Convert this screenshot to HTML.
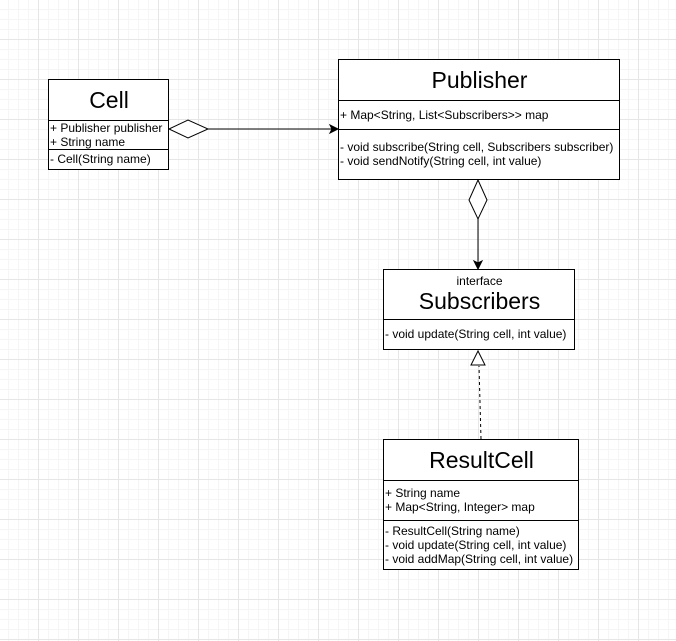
<!DOCTYPE html>
<html><head><style>
body{margin:0;width:676px;height:641px;overflow:hidden;background:#fff;
background-image:linear-gradient(#e6e6e6 1px,transparent 1px),linear-gradient(90deg,#e6e6e6 1px,transparent 1px),linear-gradient(#f5f5f5 1px,transparent 1px),linear-gradient(90deg,#f5f5f5 1px,transparent 1px);
background-size:40px 40px,40px 40px,10px 10px,10px 10px;background-position:-2px -1px,-2px -1px,-2px -1px,-2px -1px;
font-family:"Liberation Sans",Arial,sans-serif;position:relative}
.b{position:absolute;border:1px solid #000;background:#fff;box-sizing:border-box}
.s{position:absolute;left:0;right:0;border-bottom:1px solid #000;box-sizing:border-box;font-size:12px;line-height:14px;padding-left:1px;white-space:nowrap}
.h{text-align:center;font-size:23px}
svg{position:absolute;left:0;top:0}
</style></head><body>
<div class="b" style="left:48px;top:79px;width:121px;height:91px">
<div class="s h" style="top:0;height:41px;line-height:41px">Cell</div>
<div class="s" style="top:41px;height:29px;padding-top:0">+ Publisher publisher<br>+ String name</div>
<div class="s" style="top:70px;height:20px;border:none;line-height:18px">- Cell(String name)</div>
</div>
<div class="b" style="left:338px;top:59px;width:282px;height:121px">
<div class="s h" style="top:0;height:41px;line-height:41px">Publisher</div>
<div class="s" style="top:41px;height:29px;line-height:28px">+ Map&lt;String, List&lt;Subscribers&gt;&gt; map</div>
<div class="s" style="top:70px;height:50px;border:none;padding-top:10px">- void subscribe(String cell, Subscribers subscriber)<br>- void sendNotify(String cell, int value)</div>
</div>
<div class="b" style="left:383px;top:269px;width:192px;height:81px">
<div class="s h" style="top:0;height:50px"><div style="font-size:12px;line-height:12px;padding-top:5px">interface</div><div style="line-height:28px">Subscribers</div></div>
<div class="s" style="top:50px;height:30px;border:none;line-height:29px">- void update(String cell, int value)</div>
</div>
<div class="b" style="left:383px;top:439px;width:196px;height:131px">
<div class="s h" style="top:0;height:41px;line-height:41px">ResultCell</div>
<div class="s" style="top:41px;height:40px;padding-top:5px">+ String name<br>+ Map&lt;String, Integer&gt; map</div>
<div class="s" style="top:81px;height:49px;border:none;padding-top:3px">- ResultCell(String name)<br>- void update(String cell, int value)<br>- void addMap(String cell, int value)</div>
</div>
<svg width="676" height="641">
<path d="M169 129 L188 120 L208 129 L188 138 Z" fill="#fff" stroke="#000"/>
<line x1="208" y1="129" x2="333" y2="129" stroke="#000"/>
<path d="M338 129 L330 125 L332 129 L330 133 Z" fill="#000" stroke="#000"/>
<path d="M478 180 L487 200 L478 219 L469 200 Z" fill="#fff" stroke="#000"/>
<line x1="478" y1="219" x2="478" y2="264" stroke="#000"/>
<path d="M478 269 L474 261 L478 263 L482 261 Z" fill="#000" stroke="#000"/>
<line x1="481" y1="439" x2="479" y2="366" stroke="#000" stroke-dasharray="3,3"/>
<path d="M478 351 L485 365 L471 365 Z" fill="#fff" stroke="#000"/>
</svg>
</body></html>
